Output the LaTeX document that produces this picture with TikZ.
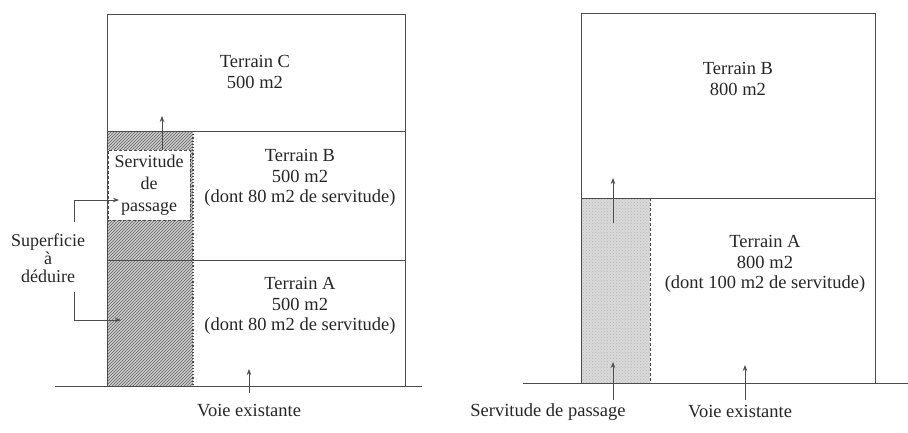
\documentclass[tikz,border=0pt]{standalone}
\usepackage{fontspec}
\setmainfont{Liberation Serif}
\usetikzlibrary{arrows.meta,patterns}
\begin{document}
\begin{tikzpicture}[x=1pt,y=-1pt,
  lin/.style={draw=black!70, line width=0.9pt},
  lbl/.style={font=\fontsize{18.5}{20.5}\selectfont, align=center, text=black!85, inner sep=0pt},
  arr/.style={draw=black!70, line width=0.8pt, -{Stealth[length=6pt,width=4.5pt]}},
]
\useasboundingbox (0,0) rectangle (908,432);

% ---------- left diagram ----------
\fill[gray!40] (108,131) rectangle (193,386);
\fill[pattern=north east lines, pattern color=black!60] (108,131) rectangle (193,386);
\draw[black!70, line width=1.2pt, dotted] (193,131) -- (193,386);

\draw[lin] (107,386) -- (107,14) -- (405,14) -- (405,386);
\draw[lin] (107,131) -- (405,131);
\draw[lin] (107,260) -- (405,260);
\draw[lin] (55,386) -- (422,386);

\node[lbl] (tc) at (255,72) {Terrain C\\500 m2};
\node[lbl] (tbl) at (300,178) {Terrain B\\500 m2\\(dont 80 m2 de servitude)};
\node[lbl] (tal) at (300,306) {Terrain A\\500 m2\\(dont 80 m2 de servitude)};

\node[lbl, font=\fontsize{18}{22}\selectfont, fill=white, draw=black!70, densely dashed, line width=0.7pt,
      minimum width=82pt, minimum height=70pt] (serv) at (149,185)
      {Servitude\\de\\passage};

\coordinate (cup) at (162,116);
\draw[arr] (serv.north -| cup) -- (cup);

\node[lbl, font=\fontsize{18}{18}\selectfont] (sup) at (48,258) {Superficie\\à\\déduire};
\coordinate (s1) at (74,222);
\coordinate (s1b) at (74,200);
\coordinate (s1e) at (119,200);
\draw[arr] (s1) -- (s1b) -- (s1e);
\coordinate (s2) at (74,292);
\coordinate (s2b) at (74,320);
\coordinate (s2e) at (121,320);
\draw[arr] (s2) -- (s2b) -- (s2e);

\node[lbl] (vl) at (249,411) {Voie existante};
\coordinate (vla) at (249,369);
\draw[arr] (249,393) -- (vla);

% ---------- right diagram ----------
\fill[gray!30] (581,198) rectangle (650,383);
\fill[pattern=crosshatch dots, pattern color=gray!55] (581,198) rectangle (650,383);
\draw[black!70, line width=0.8pt, densely dashed] (650,198) -- (650,383);

\draw[lin] (581,383) -- (581,13) -- (875,13) -- (875,383);
\draw[lin] (581,198) -- (875,198);
\draw[lin] (523,383) -- (908,383);

\node[lbl] (tbr) at (738,79) {Terrain B\\800 m2};
\node[lbl] (tar) at (765,264) {Terrain A\\800 m2\\(dont 100 m2 de servitude)};

\coordinate (rup) at (613,178);
\draw[arr] (613,223) -- (rup);

\node[lbl] (sp) at (548,412) {Servitude de passage};
\coordinate (spa) at (613,362);
\draw[arr] (613,400) -- (spa);

\node[lbl] (vr) at (740,412) {Voie existante};
\coordinate (vra) at (745,365);
\draw[arr] (745,400) -- (vra);
\end{tikzpicture}
\end{document}
